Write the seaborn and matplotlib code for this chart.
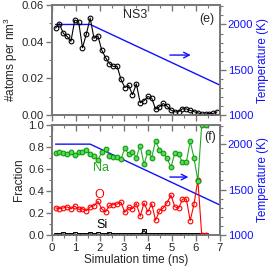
import numpy as np
import matplotlib
matplotlib.use("Agg")
import matplotlib.pyplot as plt
from matplotlib.ticker import MultipleLocator
import seaborn as sns

# === datos ===
# panel (e): densidad de atomos
t_dens = [0.16, 0.32, 0.48, 0.64, 0.80, 0.96, 1.12, 1.28, 1.44, 1.60,
          1.76, 1.92, 2.08, 2.24, 2.40, 2.56, 2.72, 2.88, 3.04, 3.20,
          3.36, 3.52, 3.68, 3.84, 4.00, 4.16, 4.32, 4.48, 4.64, 4.80,
          4.96, 5.12, 5.28, 5.44, 5.60, 5.76, 5.92, 6.08, 6.24, 6.40,
          6.56, 6.72, 6.88]
densidad = [0.0474, 0.0498, 0.0446, 0.0429, 0.0402, 0.0518, 0.0509, 0.0367, 0.0441, 0.0529,
            0.0418, 0.0432, 0.0355, 0.0313, 0.0280, 0.0265, 0.0266, 0.0195, 0.0150, 0.0161,
            0.0111, 0.0170, 0.0067, 0.0078, 0.0101, 0.0092, 0.0032, 0.0045, 0.0063, 0.0048,
            0.0027, 0.0017, 0.0018, 0.0034, 0.0033, 0.0025, 0.0018, 0.0012, 0.0005, 0.0005,
            0.0008, 0.0009, 0.0017]

# panel (f): fracciones
t_frac = t_dens[:40]
frac_na = [0.740, 0.749, 0.740, 0.734, 0.749, 0.725, 0.755, 0.749, 0.770, 0.731,
           0.718, 0.679, 0.749, 0.779, 0.718, 0.709, 0.709, 0.688, 0.785, 0.731,
           0.755, 0.700, 0.809, 0.640, 0.755, 0.700, 0.854, 0.770, 0.740, 0.695,
           0.613, 0.740, 0.731, 0.658, 0.658, 0.851, 0.695, 0.489, 1.000, 1.000]
frac_o = [0.245, 0.240, 0.245, 0.255, 0.236, 0.262, 0.232, 0.238, 0.218, 0.254,
          0.265, 0.305, 0.238, 0.208, 0.268, 0.275, 0.280, 0.298, 0.205, 0.250,
          0.238, 0.285, 0.170, 0.290, 0.210, 0.283, 0.132, 0.218, 0.245, 0.293,
          0.362, 0.256, 0.242, 0.326, 0.326, 0.130, 0.281, 0.498, 0.000, 0.000]
frac_si = [0.0, 0.0, 0.01, 0.0, 0.0, 0.01, 0.0, 0.0, 0.0, 0.012,
           0.0, 0.01, 0.0, 0.0, 0.01, 0.0, 0.0, 0.0, 0.0, 0.0,
           0.0, 0.0, 0.0, 0.04, 0.0, 0.0, 0.0, 0.0, 0.0, 0.0,
           0.0, 0.0, 0.0, 0.0, 0.0, 0.0, 0.0, 0.0, 0.0, 0.0]

# rampa de temperatura
t_temp = [0.16, 1.6, 7.0]
temperatura = [2000, 2000, 1330]

# === estilo ===
sns.set_style("ticks")
plt.rcParams['font.family'] = ['Liberation Sans', 'DejaVu Sans']
plt.rcParams['mathtext.fontset'] = 'custom'
plt.rcParams['mathtext.rm'] = 'Liberation Sans'
fs = 8.2
gris = '#777777'
azul = '#1010ff'

fig = plt.figure(figsize=(2.70, 2.71), dpi=100)
L, W = 0.1915, 0.6233
ax_e = fig.add_axes([L, 0.5756, W, 0.4059])
ax_f = fig.add_axes([L, 0.1328, W, 0.4074])


def estilo(ax, xlabels):
    for s in ax.spines.values():
        s.set_color(gris)
        s.set_linewidth(1.2)
    ax.set_xlim(0, 7)
    ax.xaxis.set_major_locator(MultipleLocator(1))
    ax.xaxis.set_minor_locator(MultipleLocator(0.5))
    ax.tick_params(axis='both', which='major', direction='out', length=4, width=1,
                   color=gris, labelsize=fs, pad=1.5)
    ax.tick_params(axis='both', which='minor', direction='out', length=2.5, width=0.8,
                   color=gris)
    ax.tick_params(axis='x', labelbottom=xlabels)
    top = ax.secondary_xaxis('top')
    top.xaxis.set_major_locator(MultipleLocator(1))
    top.xaxis.set_minor_locator(MultipleLocator(0.5))
    top.tick_params(which='major', direction='in', length=4, width=1, color=gris,
                    labeltop=False)
    top.tick_params(which='minor', direction='in', length=2.5, width=0.8, color=gris)
    top.spines['top'].set_visible(False)


def eje_temp(ax):
    ax2 = ax.twinx()
    sns.lineplot(x=t_temp, y=temperatura, ax=ax2, color=azul, linewidth=1.0)
    ax2.set_ylim(1000, 2215)
    ax2.yaxis.set_major_locator(MultipleLocator(500))
    ax2.yaxis.set_minor_locator(MultipleLocator(100))
    ax2.tick_params(axis='y', which='major', direction='out', length=4, width=1,
                    color=gris, labelcolor=azul, labelsize=fs, pad=1.5)
    ax2.tick_params(axis='y', which='minor', direction='out', length=2.5, width=0.8,
                    color=gris)
    ax2.set_ylabel("Temperature (K)", color=azul, fontsize=fs + 0.3, labelpad=3)
    for s in ax2.spines.values():
        s.set_color(gris)
        s.set_linewidth(1.2)
    return ax2


# === panel (e) ===
estilo(ax_e, False)
ax_e2 = eje_temp(ax_e)
sns.lineplot(x=t_dens, y=densidad, ax=ax_e, color='black', linewidth=0.8,
             marker='o', markersize=3.4, markerfacecolor='none',
             markeredgecolor='black', markeredgewidth=0.8)
ax_e.set_ylim(0, 0.06)
ax_e.yaxis.set_major_locator(MultipleLocator(0.02))
ax_e.yaxis.set_minor_locator(MultipleLocator(0.01))
ax_e.set_yticklabels([f"{v:.2f}" for v in ax_e.get_yticks()])
ax_e.set_ylim(0, 0.06)
ax_e.set_ylabel("#atoms per nm$^{3}$", fontsize=fs + 0.3, labelpad=1)
ax_e.text(3.45, 0.0545, "NS3", fontsize=fs + 0.8, ha='center', va='center')
ax_e.text(6.45, 0.0525, "(e)", fontsize=fs + 0.8, ha='center', va='center')
ax_e.annotate("", xy=(5.9, 0.0327), xytext=(4.8, 0.0327),
              arrowprops=dict(arrowstyle='->', color=azul, lw=1.0))

# === panel (f) ===
estilo(ax_f, True)
ax_f2 = eje_temp(ax_f)
sns.lineplot(x=t_frac, y=frac_si, ax=ax_f, color='black', linewidth=0.8,
             marker='s', markersize=2.8, markerfacecolor='none',
             markeredgecolor='black', markeredgewidth=0.7)
sns.lineplot(x=t_frac, y=frac_o, ax=ax_f, color='#ff0000', linewidth=0.8,
             marker='o', markersize=3.4, markerfacecolor='none',
             markeredgecolor='#ff0000', markeredgewidth=0.8)
sns.lineplot(x=t_frac, y=frac_na, ax=ax_f, color='#22aa22', linewidth=0.8,
             marker='o', markersize=3.4, markerfacecolor='#55dd55',
             markeredgecolor='#119911', markeredgewidth=0.8)
ax_f.set_ylim(0, 1.0)
ax_f.yaxis.set_major_locator(MultipleLocator(0.2))
ax_f.yaxis.set_minor_locator(MultipleLocator(0.1))
ax_f.set_yticklabels([f"{v:.1f}" for v in ax_f.get_yticks()])
ax_f.set_ylim(0, 1.0)
ax_f.set_ylabel("Fraction", fontsize=fs + 0.3, labelpad=2)
ax_f.set_xlabel("Simulation time (ns)", fontsize=fs + 0.3, labelpad=1)
ax_f.text(2.05, 0.61, "Na", color='#22aa22', fontsize=fs + 0.8, ha='center', va='center')
ax_f.text(1.97, 0.36, "O", color='#ff0000', fontsize=fs + 0.8, ha='center', va='center')
ax_f.text(2.08, 0.09, "Si", color='black', fontsize=fs + 0.8, ha='center', va='center')
ax_f.text(6.6, 0.89, "(f)", fontsize=fs + 0.8, ha='center', va='center')
ax_f.annotate("", xy=(5.8, 0.525), xytext=(4.8, 0.525),
              arrowprops=dict(arrowstyle='->', color=azul, lw=1.0))

# datos por encima de la rampa de temperatura
for a, a2 in [(ax_e, ax_e2), (ax_f, ax_f2)]:
    a.set_zorder(a2.get_zorder() + 1)
    a.patch.set_visible(False)

plt.savefig("out.png", dpi=100)
plt.close()
